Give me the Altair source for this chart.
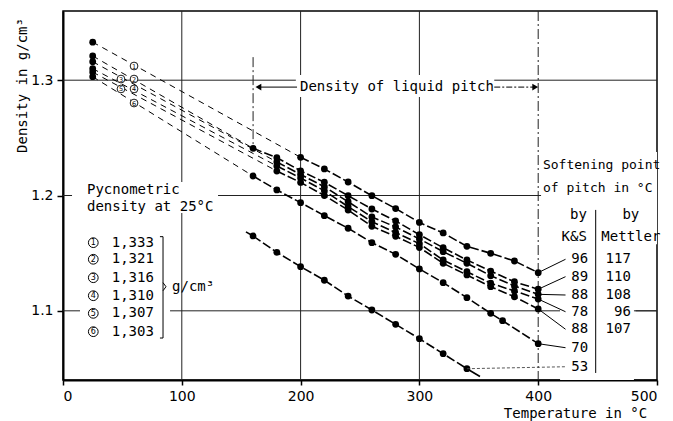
import altair as alt
import pandas as pd

# ---------------- values ----------------
ks_labels = ["96", "89", "88", "78", "88", "70", "53"]          # softening point by K&S
mettler_labels = ["117", "110", "108", "96", "107"]              # softening point by Mettler
pyc_ids = ["1", "2", "3", "4", "5", "6"]
pyc_values = ["1,333", "1,321", "1,316", "1,310", "1,307", "1,303"]
pyc_density = [1.333, 1.321, 1.316, 1.310, 1.307, 1.303]
pyc_temperature = 25

t_c1 = [200, 220, 240, 260, 280, 300, 320, 340, 360, 380, 400]
d_c1 = [1.2331, 1.2230, 1.2117, 1.1998, 1.1887, 1.1766, 1.1675, 1.1559, 1.1499, 1.1432, 1.1331]
t_c2 = [160, 180, 200, 220, 240, 260, 280, 300, 320, 340, 360, 380, 400]
d_c2 = [1.2409, 1.2328, 1.2214, 1.2115, 1.1998, 1.1883, 1.1779, 1.1660, 1.1547, 1.1441, 1.1345, 1.1252, 1.1187]
t_c3 = [180, 200, 220, 240, 260, 280, 300, 320, 340, 360, 380, 400]
d_c3 = [1.2291, 1.2182, 1.2076, 1.1946, 1.1814, 1.1727, 1.1623, 1.1513, 1.1412, 1.1305, 1.1215, 1.1143]
t_c4 = [180, 200, 220, 240, 260, 280, 300, 320, 340, 360, 380, 400]
d_c4 = [1.2256, 1.2152, 1.2041, 1.1903, 1.1773, 1.1679, 1.1582, 1.1441, 1.1339, 1.1239, 1.1172, 1.1102]
t_c5 = [180, 200, 220, 240, 260, 280, 300, 320, 340, 360, 380, 400]
d_c5 = [1.2212, 1.2113, 1.2000, 1.1874, 1.1733, 1.1646, 1.1549, 1.1412, 1.1311, 1.1209, 1.1122, 1.1016]
t_c6 = [160, 180, 200, 220, 240, 260, 280, 300, 320, 340, 360, 370, 400]
d_c6 = [1.2169, 1.2048, 1.1938, 1.1825, 1.1716, 1.1591, 1.1490, 1.1363, 1.1244, 1.1114, 1.0978, 1.0914, 1.0715]
t_c7 = [160, 180, 200, 220, 240, 260, 280, 300, 320, 340]
d_c7 = [1.1649, 1.1507, 1.1383, 1.1265, 1.1128, 1.1007, 1.0883, 1.0758, 1.0628, 1.0498]

temps = [t_c1, t_c2, t_c3, t_c4, t_c5, t_c6, t_c7]
dens = [d_c1, d_c2, d_c3, d_c4, d_c5, d_c6, d_c7]

x_ticks = [0, 100, 200, 300, 400, 500]
y_ticks = [1.1, 1.2, 1.3]
x_grid = [100, 200, 300]
liquid_limits = [160, 400]

# ---------------- annotation placement (data units) ----------------
label_x_ks = 442
label_x_me = 478
label_y = [1.1447, 1.1296, 1.1137, 1.0992, 1.0840, 1.0680, 1.0515]
leader_end_x = 423
circ_x = [59.8, 59.8, 48.8, 59.8, 48.8, 59.8]
circ_y = [1.3123, 1.3010, 1.3010, 1.2924, 1.2924, 1.2802]
legend_y = [1.1591, 1.1447, 1.1287, 1.1131, 1.0978, 1.0819]

FONT = "DejaVu Sans Mono"
xs = alt.Scale(domain=[0, 500], nice=False, zero=False)
ys = alt.Scale(domain=[1.04, 1.36], nice=False, zero=False)

axis_x = alt.Axis(values=x_ticks, title="Temperature in °C", grid=False, format="d",
                  labelFont="DejaVu Sans", labelFontSize=14, labelColor="black",
                  tickSize=5, tickWidth=1.5, tickColor="black", labelPadding=4,
                  domainColor="black", domainWidth=2,
                  titleFont=FONT, titleFontSize=14, titleFontWeight="normal", titleColor="black",
                  titleX=512, titleY=33, titleAlign="center", titleBaseline="middle")
axis_y = alt.Axis(values=y_ticks, title="Density in g/cm³", grid=False, format=".1f",
                  labelFont="DejaVu Sans", labelFontSize=14, labelColor="black",
                  tickSize=6, tickWidth=1.5, tickColor="black", labelPadding=4,
                  domainColor="black", domainWidth=2,
                  titleFont=FONT, titleFontSize=14, titleFontWeight="normal", titleColor="black",
                  titleX=-41, titleY=74, titleAngle=270, titleAlign="center", titleBaseline="middle")


def X(f):
    return alt.X(f, type="quantitative", scale=xs, axis=axis_x)


def Y(f):
    return alt.Y(f, type="quantitative", scale=ys, axis=axis_y)


# ---------------- tables ----------------
meas = pd.DataFrame([
    {"curve": i, "t": t, "d": d}
    for i, (ts, ds) in enumerate(zip(temps, dens)) for t, d in zip(ts, ds)
])
ext = pd.DataFrame(
    [{"curve": i, "t": pyc_temperature, "d": pyc_density[i]} for i in range(6)]
    + [{"curve": i, "t": temps[i][0], "d": dens[i][0]} for i in range(6)]
)
pyc_pts = pd.DataFrame({"t": [pyc_temperature] * 6, "d": pyc_density})

# ---------------- layers ----------------
grid_v = alt.Chart(pd.DataFrame({"v": x_grid})).mark_rule(color="#222", strokeWidth=1).encode(x=X("v"))
grid_h = alt.Chart(pd.DataFrame({"v": y_ticks})).mark_rule(color="#222", strokeWidth=1).encode(y=Y("v"))
grid_400 = alt.Chart(pd.DataFrame({"v": [liquid_limits[1]]})).mark_rule(
    color="#222", strokeWidth=1, strokeDash=[10, 3, 2, 3]).encode(x=X("v"))
line_160 = alt.Chart(pd.DataFrame({"v": [liquid_limits[0]], "y1": [1.320], "y2": [1.242]})).mark_rule(
    color="#222", strokeWidth=1, strokeDash=[10, 3, 2, 3]).encode(x=X("v"), y=Y("y1"), y2="y2")

boxes = pd.DataFrame({
    "x1": [196, 7.6, 14.3, 402.4, 418.4],
    "x2": [363, 130.5, 90.1, 500, 480.6],
    "y1": [1.2854, 1.1849, 1.0747, 1.1577, 1.04],
    "y2": [1.3045, 1.2118, 1.1684, 1.2377, 1.1577],
})
white = alt.Chart(boxes).mark_rect(color="white").encode(
    x=X("x1"), x2="x2", y=Y("y1"), y2="y2")

ext_lines = alt.Chart(ext).mark_line(color="black", strokeWidth=1, strokeDash=[6, 5]).encode(
    x=X("t"), y=Y("d"), detail="curve:N", order="t:Q")
meas_lines = alt.Chart(meas).mark_line(color="black", strokeWidth=1.6, strokeDash=[9, 3]).encode(
    x=X("t"), y=Y("d"), detail="curve:N", order="t:Q")
c53_tails = alt.Chart(pd.DataFrame({"x1": [154, 340], "x2": [160, 351],
                                    "y1": [1.1685, 1.0498], "y2": [1.1649, 1.043]})).mark_rule(
    color="black", strokeWidth=1.6).encode(x=X("x1"), x2="x2", y=Y("y1"), y2="y2")
dots = alt.Chart(pd.concat([meas[["t", "d"]], pyc_pts])).mark_circle(
    color="black", opacity=1, size=46).encode(x=X("t"), y=Y("d"))

# leaders from the curve ends to the K&S labels
end_x = [temps[i][-1] for i in range(7)]
end_y = [dens[i][-1] for i in range(7)]
lead = pd.DataFrame({"x1": end_x[:6], "y1": end_y[:6], "x2": [leader_end_x] * 6, "y2": label_y[:6]})
leaders = alt.Chart(lead).mark_rule(color="black", strokeWidth=1).encode(
    x=X("x1"), x2="x2", y=Y("y1"), y2="y2")
lead53 = alt.Chart(pd.DataFrame({"x1": [end_x[6]], "y1": [end_y[6]], "x2": [leader_end_x],
                                 "y2": [label_y[6]]})).mark_rule(
    color="#444", strokeWidth=0.9, strokeDash=[3, 2]).encode(x=X("x1"), x2="x2", y=Y("y1"), y2="y2")

ks_text = alt.Chart(pd.DataFrame({"x": [label_x_ks] * 7, "y": label_y, "s": ks_labels})).mark_text(
    font=FONT, fontSize=14, align="right", baseline="middle", color="black").encode(
    x=X("x"), y=Y("y"), text="s:N")
me_text = alt.Chart(pd.DataFrame({"x": [label_x_me] * 5, "y": label_y[:5], "s": mettler_labels})).mark_text(
    font=FONT, fontSize=14, align="right", baseline="middle", color="black").encode(
    x=X("x"), y=Y("y"), text="s:N")
sep = alt.Chart(pd.DataFrame({"x": [448.4], "y1": [1.1875], "y2": [1.0461]})).mark_rule(
    color="black", strokeWidth=1).encode(x=X("x"), y=Y("y1"), y2="y2")
tail_96 = alt.Chart(pd.DataFrame({"x1": [482], "x2": [500], "y": [1.1]})).mark_rule(
    color="#222", strokeWidth=1).encode(x=X("x1"), x2="x2", y=Y("y"))

head = pd.DataFrame({
    "x": [404, 404, 441, 478, 441, 478],
    "y": [1.2265, 1.2065, 1.1831, 1.1831, 1.164, 1.164],
    "s": ["Softening point", "of pitch in °C", "by", "by", "K&S", "Mettler"],
})
head_left = alt.Chart(head.iloc[:2]).mark_text(font=FONT, fontSize=13, align="left", baseline="middle",
                                               color="black").encode(x=X("x"), y=Y("y"), text="s:N")
head_right = alt.Chart(head.iloc[[2, 4]]).mark_text(font=FONT, fontSize=14, align="right",
                                                    baseline="middle", color="black").encode(
    x=X("x"), y=Y("y"), text="s:N")
head_center = alt.Chart(head.iloc[[3, 5]]).mark_text(font=FONT, fontSize=14, align="center",
                                                     baseline="middle", color="black").encode(
    x=X("x"), y=Y("y"), text="s:N")

# Density of liquid pitch with arrows
liq_text = alt.Chart(pd.DataFrame({"x": [199.5], "y": [1.294], "s": ["Density of liquid pitch"]})).mark_text(
    font=FONT, fontSize=14, align="left", baseline="middle", color="black").encode(
    x=X("x"), y=Y("y"), text="s:N")
arr_l = alt.Chart(pd.DataFrame({"x1": [164], "x2": [197], "y": [1.294]})).mark_rule(
    color="black", strokeWidth=1).encode(x=X("x1"), x2="x2", y=Y("y"))
arr_r = alt.Chart(pd.DataFrame({"x1": [363], "x2": [397], "y": [1.294]})).mark_rule(
    color="black", strokeWidth=1, strokeDash=[6, 2, 2, 2]).encode(x=X("x1"), x2="x2", y=Y("y"))
heads = alt.Chart(pd.DataFrame({"x": [164.5, 397.5], "y": [1.294, 1.294],
                                "sh": ["triangle-left", "triangle-right"]})).mark_point(
    filled=True, color="black", opacity=1, size=45).encode(
    x=X("x"), y=Y("y"), shape=alt.Shape("sh:N", scale=None))

# pycnometric legend
pyc_text = alt.Chart(pd.DataFrame({"x": [20.2, 20.2], "y": [1.2048, 1.1900],
                                   "s": ["Pycnometric", "density at 25°C"]})).mark_text(
    font=FONT, fontSize=14, align="left", baseline="middle", color="black").encode(
    x=X("x"), y=Y("y"), text="s:N")
leg_circ = alt.Chart(pd.DataFrame({"x": [25.5] * 6, "y": legend_y})).mark_point(
    shape="circle", size=95, color="black", fill="white", filled=False, strokeWidth=1, opacity=1).encode(
    x=X("x"), y=Y("y"))
leg_num = alt.Chart(pd.DataFrame({"x": [25.5] * 6, "y": legend_y, "s": pyc_ids})).mark_text(
    font="DejaVu Sans", fontSize=8, align="center", baseline="middle", color="black", dy=0.5).encode(
    x=X("x"), y=Y("y"), text="s:N")
leg_val = alt.Chart(pd.DataFrame({"x": [41] * 6, "y": legend_y, "s": pyc_values})).mark_text(
    font=FONT, fontSize=14, align="left", baseline="middle", color="black").encode(
    x=X("x"), y=Y("y"), text="s:N")
bracket = alt.Chart(pd.DataFrame({
    "x1": [84.2, 81.6, 81.6, 84.2, 84.2],
    "x2": [84.2, 84.2, 84.2, 86.7, 86.7],
    "y1": [1.1643, 1.1643, 1.0764, 1.1244, 1.1174],
    "y2": [1.0764, 1.1643, 1.0764, 1.1209, 1.1209],
})).mark_rule(color="black", strokeWidth=1).encode(x=X("x1"), x2="x2", y=Y("y1"), y2="y2")
unit_text = alt.Chart(pd.DataFrame({"x": [91.8], "y": [1.1209], "s": ["g/cm³"]})).mark_text(
    font=FONT, fontSize=14, align="left", baseline="middle", color="black").encode(
    x=X("x"), y=Y("y"), text="s:N")

# circled numbers on the extrapolated lines
line_circ = alt.Chart(pd.DataFrame({"x": circ_x, "y": circ_y})).mark_point(
    shape="circle", size=60, color="black", fill="white", filled=False, strokeWidth=0.9, opacity=1).encode(
    x=X("x"), y=Y("y"))
line_num = alt.Chart(pd.DataFrame({"x": circ_x, "y": circ_y, "s": pyc_ids})).mark_text(
    font="DejaVu Sans", fontSize=6.5, align="center", baseline="middle", color="black", dy=0.5).encode(
    x=X("x"), y=Y("y"), text="s:N")

chart = alt.layer(
    grid_v, grid_h, grid_400, line_160, white,
    ext_lines, meas_lines, c53_tails, dots,
    leaders, lead53, sep, tail_96, ks_text, me_text, head_left, head_right, head_center,
    arr_l, arr_r, heads, liq_text,
    pyc_text, leg_circ, leg_num, leg_val, bracket, unit_text,
    line_circ, line_num,
).properties(
    width=594, height=369,
    padding={"left": 55, "top": 3, "right": 8, "bottom": 41},
    autosize=alt.AutoSizeParams(type="none"),
    background="white",
).configure_view(stroke="black", strokeWidth=1.5)

chart.save("out.html", embed_options={"renderer": "svg", "actions": False})
